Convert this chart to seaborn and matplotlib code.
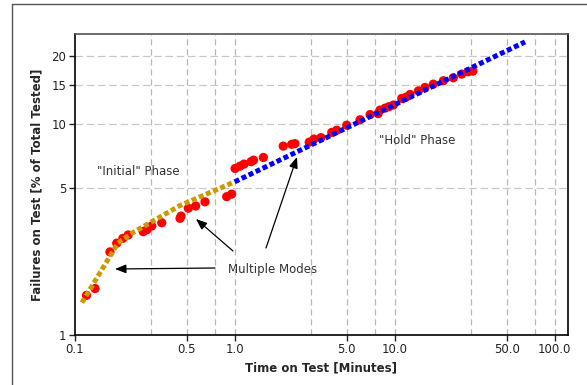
import numpy as np
import pandas as pd
import matplotlib
matplotlib.use("Agg")
import matplotlib.pyplot as plt
import seaborn as sns
from matplotlib.lines import Line2D

# ---------------- data ----------------
red_time = [0.1185, 0.134, 0.166, 0.183, 0.200, 0.216, 0.268, 0.283, 0.303, 0.350,
            0.455, 0.462, 0.513, 0.570, 0.652, 0.891, 0.957,
            1.005, 1.08, 1.143, 1.265, 1.311, 1.51, 2.01, 2.27, 2.38,
            2.92, 3.13, 3.46, 4.04, 4.34, 5.01, 6.07, 7.01, 7.87, 8.09, 8.71, 9.21, 9.79,
            11.06, 11.78, 12.46, 14.06, 15.46, 17.42, 20.14, 23.23, 26.2, 28.8, 30.8]
red_fail = [1.55, 1.67, 2.50, 2.75, 2.90, 3.01, 3.12, 3.19, 3.32, 3.44,
            3.61, 3.70, 4.03, 4.13, 4.32, 4.57, 4.70,
            6.20, 6.36, 6.50, 6.67, 6.78, 6.98, 7.88, 8.03, 8.09,
            8.22, 8.49, 8.62, 9.12, 9.33, 9.84, 10.42, 11.0, 11.11, 11.53, 11.77, 11.95, 12.15,
            13.02, 13.19, 13.56, 14.07, 14.58, 15.08, 15.61, 16.09, 16.70, 17.10, 17.21]

initial_time = [0.111, 0.186, 0.228, 0.455, 1.0]
initial_fail = [1.43, 2.75, 3.07, 4.15, 5.37]

hold_time = [1.0, 65.2]
hold_fail = [5.37, 23.0]

x_ticks = [0.1, 0.5, 1.0, 5.0, 10.0, 50.0, 100.0]
x_tick_labels = ["0.1", "0.5", "1.0", "5.0", "10.0", "50.0", "100.0"]
x_grid = [0.3, 0.5, 0.75, 1.0, 3.0, 5.0, 7.5, 10.0, 30.0, 50.0, 75.0, 100.0]
y_ticks = [1, 5, 10, 15, 20]
y_grid = [5, 10, 15, 20]

# ---------------- figure ----------------
sns.set_theme(style="white")
plt.rcParams['font.family'] = ['DejaVu Sans']

fig = plt.figure(figsize=(5.87, 3.85), dpi=100)
ax = fig.add_axes([74.7 / 587, 1 - 335 / 385, (567.7 - 74.7) / 587, (335 - 33.7) / 385])


def fwd(p):
    p = np.clip(np.asarray(p, dtype=float), 1e-6, 99.9999)
    return np.log(-np.log(1 - p / 100.0))


def inv(u):
    u = np.asarray(u, dtype=float)
    return 100.0 * (1 - np.exp(-np.exp(u)))


ax.set_xscale("log")
ax.set_yscale("function", functions=(fwd, inv))
ax.set_xlim(0.1, 120.5)
ax.set_ylim(1, 24.9)

# grid
for gx in x_grid:
    ax.axvline(gx, color="#b8b8b8", lw=0.9, ls=(0, (5, 3)), zorder=0)
for gy in y_grid:
    ax.axhline(gy, color="#c8c8c8", lw=0.9, ls=(0, (6, 3)), zorder=0)

df_red = pd.DataFrame({"time": red_time, "fail": red_fail})
sns.scatterplot(data=df_red, x="time", y="fail", ax=ax, color="#ff0000",
                s=44, edgecolor="none", linewidth=0, zorder=3)

df_init = pd.DataFrame({"time": initial_time, "fail": initial_fail})
sns.lineplot(data=df_init, x="time", y="fail", ax=ax, color="#cc9900",
             lw=3.6, zorder=4)
ax.lines[-1].set_linestyle((0, (1.0, 0.55)))
ax.lines[-1].set_dash_capstyle("butt")

df_hold = pd.DataFrame({"time": hold_time, "fail": hold_fail})
sns.lineplot(data=df_hold, x="time", y="fail", ax=ax, color="#0000ff",
             lw=3.6, zorder=5)
ax.lines[-1].set_linestyle((0, (1.0, 0.55)))
ax.lines[-1].set_dash_capstyle("butt")

# ticks
ax.set_xticks(x_ticks)
ax.set_xticklabels(x_tick_labels)
ax.xaxis.set_minor_locator(matplotlib.ticker.NullLocator())
ax.set_yticks(y_ticks)
ax.set_yticklabels([str(v) for v in y_ticks])
ax.yaxis.set_minor_locator(matplotlib.ticker.NullLocator())
ax.tick_params(axis="both", which="major", direction="out", length=4, width=1,
               labelsize=8.5, colors="#222222", pad=2, bottom=True, left=True)

for side in ["left", "bottom", "right"]:
    ax.spines[side].set_color("black")
    ax.spines[side].set_linewidth(1.2)
ax.spines["top"].set_color("#555555")
ax.spines["top"].set_linewidth(1.2)

ax.set_xlabel("Time on Test [Minutes]", fontsize=8.5, fontweight="bold", labelpad=4)
ax.set_ylabel("Failures on Test [% of Total Tested]", fontsize=8.5, fontweight="bold", labelpad=6)


def fig_xy(xp, yp):
    return (xp / 587.0, 1 - yp / 385.0)


fig.text(*fig_xy(97, 172), '"Initial" Phase', fontsize=8.5, color="#333333",
         va="center", ha="left")
fig.text(*fig_xy(379, 140), '"Hold" Phase', fontsize=8.5, color="#333333",
         va="center", ha="left")
fig.text(*fig_xy(228, 270), 'Multiple Modes', fontsize=8.5, color="#333333",
         va="center", ha="left")

arrow_kw = dict(arrowstyle="-|>,head_length=0.55,head_width=0.22", color="black", lw=0.9,
                shrinkA=0, shrinkB=0)
for (x0, y0), (x1, y1) in [((215, 268), (115, 269)),
                           ((233, 251), (196, 219)),
                           ((266, 248), (297, 157))]:
    ax.annotate("", xy=fig_xy(x1, y1), xytext=fig_xy(x0, y0),
                xycoords="figure fraction", textcoords="figure fraction",
                arrowprops=arrow_kw)

# outer frame lines
fig.add_artist(Line2D([12 / 587, 12 / 587], [0, 1 - 4 / 385], transform=fig.transFigure,
                      color="#555555", lw=1.0))
fig.add_artist(Line2D([12 / 587, 1], [1 - 4 / 385, 1 - 4 / 385], transform=fig.transFigure,
                      color="#555555", lw=1.0))

fig.savefig("out.png", dpi=100)
